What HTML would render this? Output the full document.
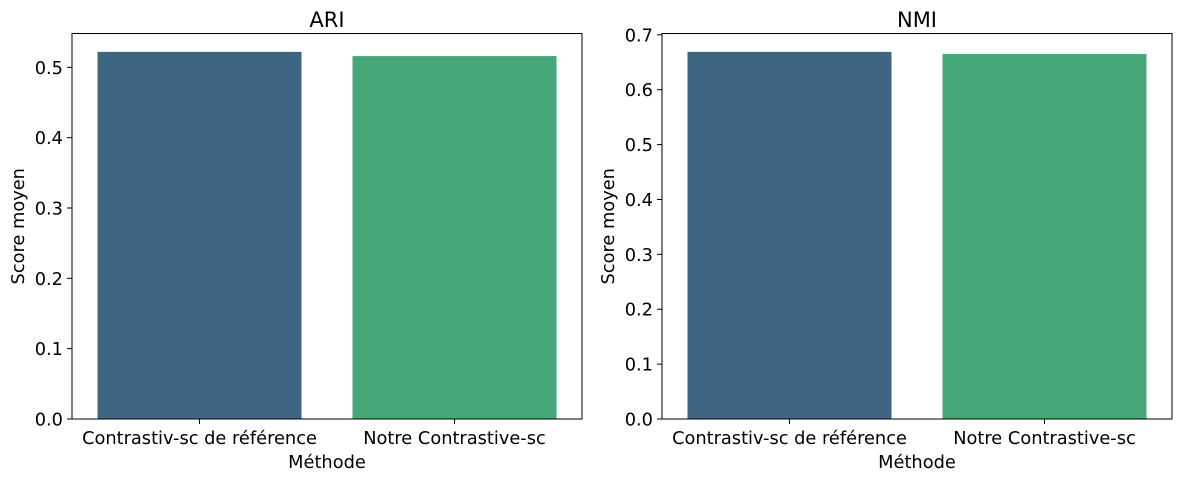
<!DOCTYPE html>
<html><head><meta charset="utf-8"><style>
body{margin:0;background:#fff;width:1180px;height:480px;overflow:hidden}
svg text{font-family:"DejaVu Sans","Liberation Sans",sans-serif;fill:#000}
</style></head><body>
<svg id="chart" width="1180" height="480"></svg>
<script>
const categories=["Contrastiv-sc de référence","Notre Contrastive-sc"];
const ariValues=[0.522,0.516];
const nmiValues=[0.669,0.665];
const ariTicks=[0,0.1,0.2,0.3,0.4,0.5];
const nmiTicks=[0,0.1,0.2,0.3,0.4,0.5,0.6,0.7];
const colors=["#3e6682","#46a877"];
const svg=document.getElementById('chart');
const NS="http://www.w3.org/2000/svg";
function mk(tag,attrs,parent){const e=document.createElementNS(NS,tag);for(const k in attrs)e.setAttribute(k,attrs[k]);(parent||svg).appendChild(e);return e;}
function panel(x0,title,values,ticks,key){
  const x1=x0+510,yT=33.5,yB=419;
  const ymax=Math.max(...values)*1.05;
  const y=v=>yB-(v/ymax)*(yB-yT);
  const bw=(x1-x0)/categories.length;
  const g=mk('g',{});
  
  
  values.forEach((v,i)=>{
    const cx=x0+bw*(i+0.5);
    const r=mk('rect',{x:cx-bw*0.4,y:y(v),width:bw*0.8,height:yB-y(v),fill:colors[i]},g);
    
    
    mk('line',{x1:cx,x2:cx,y1:yB,y2:yB+5,stroke:'#000','stroke-width':1},g);
    const t=mk('text',{x:cx,y:yB+25,'text-anchor':'middle','font-size':17.8},g);
    t.textContent=categories[i];
    
    
  });
  ticks.forEach(tv=>{
    const ty=y(tv);
    mk('line',{x1:x0-5,x2:x0,y1:ty,y2:ty,stroke:'#000','stroke-width':1},g);
    const t=mk('text',{x:x0-9,y:ty+6.5,'text-anchor':'end','font-size':17.8},g);
    t.textContent=tv.toFixed(1);
    
    
  });
  mk('rect',{x:x0,y:yT,width:x1-x0,height:yB-yT,fill:'none',stroke:'#000','stroke-width':1},g);
  const tt=mk('text',{x:(x0+x1)/2,y:27,'text-anchor':'middle','font-size':21},g);
  tt.textContent=title;
  
  
  const xl=mk('text',{x:(x0+x1)/2,y:468,'text-anchor':'middle','font-size':17.8},g);
  xl.textContent='Méthode';
  
  
  const yl=mk('text',{x:0,y:0,'text-anchor':'middle','font-size':17.8,transform:`translate(${x0-48},${(yT+yB)/2}) rotate(-90)`},g);
  yl.textContent='Score moyen';
  
  
}
panel(72,'ARI',ariValues,ariTicks,'ari');
panel(662,'NMI',nmiValues,nmiTicks,'nmi');
</script>
</body></html>
